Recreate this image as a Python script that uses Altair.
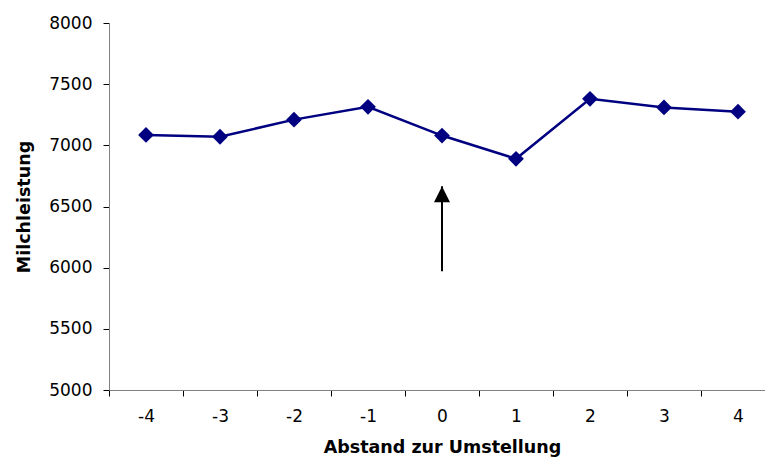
import altair as alt
import pandas as pd

# Milk yield around the changeover (lag in periods)
abstand = ["-4", "-3", "-2", "-1", "0", "1", "2", "3", "4"]
milchleistung = [7085, 7070, 7210, 7315, 7080, 6890, 7380, 7310, 7275]

# Arrow marking the changeover
arrow_at = ["0"]
arrow_start = [5970]
arrow_end = [6665]

df = pd.DataFrame({"Abstand": abstand, "Milchleistung": milchleistung})
arrow_df = pd.DataFrame({"Abstand": arrow_at, "start": arrow_start, "end": arrow_end})

FONT = "DejaVu Sans"
NAVY = "#000080"

x_scale = alt.Scale(type="band", domain=abstand, range=[0, 666],
                    paddingInner=0, paddingOuter=0)
y_scale = alt.Scale(domain=[5000, 8000], nice=False, zero=False)

x_enc = alt.X(
    "Abstand:N", scale=x_scale, sort=abstand,
    axis=alt.Axis(
        title="Abstand zur Umstellung", labelAngle=0, tickBand="extent",
        tickSize=6, labelPadding=12, labelFontSize=17, labelFont=FONT,
        labelColor="black", titleFont=FONT, titleFontSize=17.5,
        titleFontWeight="bold", titleColor="black", titleX=333, titleY=62,
        titleAlign="center", titleBaseline="alphabetic",
        domainColor="#808080", tickColor="black", grid=False,
    ),
)
y_enc = alt.Y(
    "Milchleistung:Q", scale=y_scale,
    axis=alt.Axis(
        title="Milchleistung", values=[5000, 5500, 6000, 6500, 7000, 7500, 8000],
        format="d", tickSize=6, labelPadding=11, labelFontSize=17,
        labelFont=FONT, labelColor="black", titleFont=FONT, titleFontSize=17.5,
        titleFontWeight="bold", titleColor="black", titleX=-85, titleY=183.5,
        titleAngle=270, titleAlign="center", titleBaseline="middle",
        domainColor="#808080", tickColor="black", grid=False,
    ),
)

line = alt.Chart(df).mark_line(color=NAVY, strokeWidth=2.5).encode(x=x_enc, y=y_enc)
points = alt.Chart(df).mark_point(
    shape="diamond", size=250, filled=True, color=NAVY, opacity=1
).encode(x=x_enc, y=y_enc)

shaft = alt.Chart(arrow_df).mark_rule(color="black", strokeWidth=2).encode(
    x=alt.X("Abstand:N", scale=x_scale, sort=abstand),
    y=alt.Y("start:Q", scale=y_scale),
    y2="end:Q",
)
head = alt.Chart(arrow_df).mark_point(
    shape="M0,0L1,2L-1,2Z", size=256, filled=True, color="black", opacity=1
).encode(
    x=alt.X("Abstand:N", scale=x_scale, sort=abstand),
    y=alt.Y("end:Q", scale=y_scale),
)

chart = (
    alt.layer(line, points, shaft, head)
    .properties(
        width=656, height=367,
        padding={"left": 109, "top": 23, "right": 0, "bottom": 67},
        autosize=alt.AutoSizeParams(type="none"),
        background="white",
    )
    .configure_view(stroke=None)
)

chart.save("out.html", embed_options={"renderer": "svg", "actions": False})
